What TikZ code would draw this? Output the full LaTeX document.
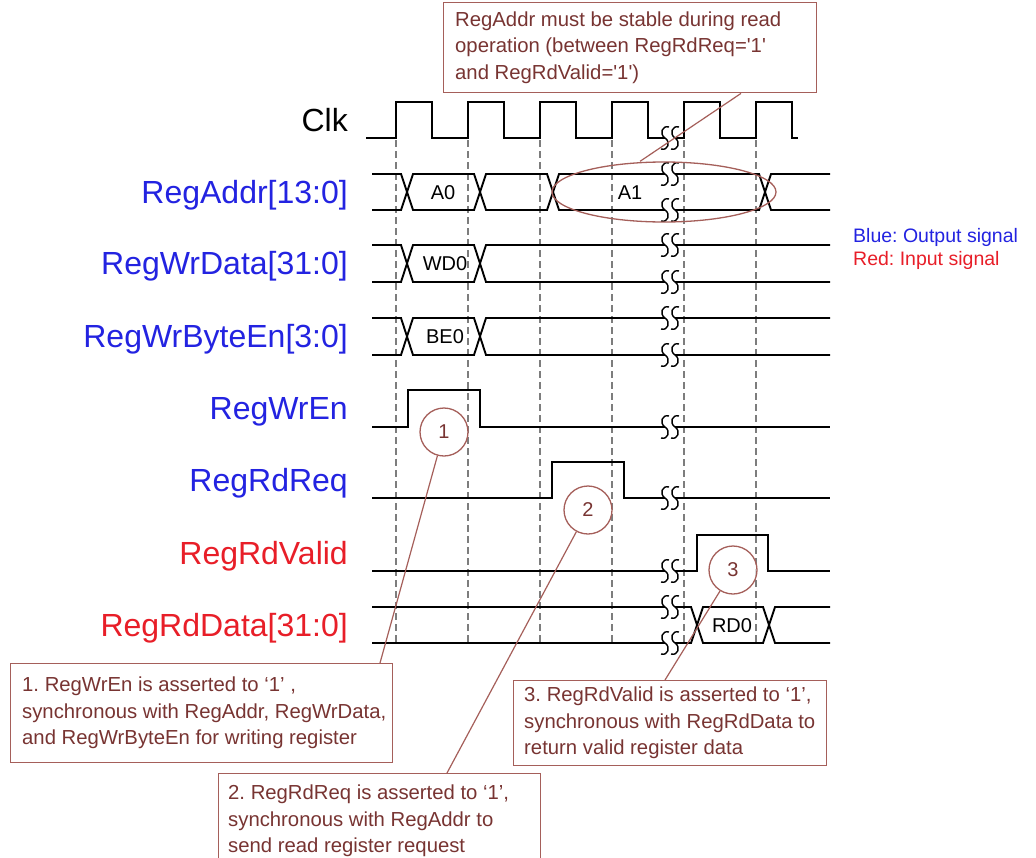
\documentclass[tikz,border=0pt]{standalone}
\usepackage{fontspec}
\setmainfont{Liberation Sans}
\usetikzlibrary{shapes.geometric}
\definecolor{brn}{RGB}{165,95,90}
\definecolor{brntxt}{RGB}{120,52,50}
\definecolor{sigblue}{RGB}{35,35,225}
\definecolor{sigred}{RGB}{232,30,40}
\definecolor{dgray}{RGB}{125,125,125}
\newcommand{\sshape}[2]{\draw[brkline] ({#1+4},{#2-11}) .. controls ({#1-3},{#2-13}) and ({#1-6},{#2-4}) .. (#1,#2) .. controls ({#1+6},{#2+4}) and ({#1+3},{#2+13}) .. ({#1-4},{#2+11});}
\newcommand{\brkmark}[1]{\fill[white] (665,{#1-2.6}) rectangle (675,{#1+2.6});\sshape{665}{#1}\sshape{675}{#1}}
\frenchspacing
\begin{document}
\frenchspacing
\begin{tikzpicture}[x=1pt,y=-1pt,
  sig/.style={line width=1.9pt},
  brkline/.style={line width=1.4pt},
  guide/.style={dgray, line width=1.3pt, dash pattern=on 7pt off 4pt},
  lbl/.style={anchor=base east, inner sep=0pt, font=\fontsize{32}{36}\selectfont},
  val/.style={anchor=base, inner sep=0pt, font=\fontsize{20}{24}\selectfont},
  annbox/.style={draw=brn, line width=1.4pt, fill=white, rectangle, inner sep=0pt, anchor=north west},
  anntext/.style={anchor=west, align=left, inner sep=0pt, text=brntxt, font=\fontsize{20.3}{26.5}\selectfont\frenchspacing},
  circ/.style={circle, draw=brn, line width=1.3pt, fill=white, fill opacity=0.7, text opacity=1, text=brntxt, minimum size=48pt, inner sep=0pt, font=\fontsize{20}{24}\selectfont},
  conn/.style={brn, line width=1.2pt},
  legend/.style={anchor=base west, inner sep=0pt, font=\fontsize{19.5}{23}\selectfont\frenchspacing}
]
\useasboundingbox (0,0) rectangle (1036,857);
\fill[white] (0,0) rectangle (1036,857);

% guide lines
\foreach \x in {396,468,540,612,684,756} \draw[guide] (\x,140) -- (\x,645);

% labels
\node[lbl] (lclk) at (348,131) {Clk};
\node[lbl, text=sigblue] (laddr) at (348,203) {RegAddr[13:0]};
\node[lbl, text=sigblue] (lwd) at (348,274) {RegWrData[31:0]};
\node[lbl, text=sigblue] (lbe) at (348,347) {RegWrByteEn[3:0]};
\node[lbl, text=sigblue] (lwe) at (348,419) {RegWrEn};
\node[lbl, text=sigblue] (lrq) at (348,491) {RegRdReq};
\node[lbl, text=sigred] (lrv) at (348,564) {RegRdValid};
\node[lbl, text=sigred] (lrd) at (348,636) {RegRdData[31:0]};

% clock
\draw[sig] (366,138) -| (396,102) -| (432,138) -| (468,102) -| (504,138) -| (540,102) -| (576,138) -| (612,102) -| (648,138) -| (684,102) -| (720,138) -| (756,102) -| (792,138) -- (798,138);

% RegAddr
\draw[sig] (372,174) -- (401,174) -- (413,210) -- (474,210) -- (486,174) -- (547,174) -- (559,210) -- (759,210) -- (771,174) -- (830,174);
\draw[sig] (372,210) -- (401,210) -- (413,174) -- (474,174) -- (486,210) -- (547,210) -- (559,174) -- (759,174) -- (771,210) -- (830,210);
% RegWrData
\draw[sig] (372,245) -- (401,245) -- (413,282) -- (474,282) -- (486,245) -- (830,245);
\draw[sig] (372,282) -- (401,282) -- (413,245) -- (474,245) -- (486,282) -- (830,282);
% RegWrByteEn
\draw[sig] (372,318) -- (401,318) -- (413,355) -- (474,355) -- (486,318) -- (830,318);
\draw[sig] (372,355) -- (401,355) -- (413,318) -- (474,318) -- (486,355) -- (830,355);
% RegWrEn
\draw[sig] (372,427) -| (408,390) -| (480,427) -- (830,427);
% RegRdReq
\draw[sig] (372,498) -| (552,462) -| (624,498) -- (830,498);
% RegRdValid
\draw[sig] (372,571) -| (697,535) -| (768,571) -- (830,571);
% RegRdData
\draw[sig] (372,607) -- (691,607) -- (703,643) -- (763,643) -- (775,607) -- (830,607);
\draw[sig] (372,643) -- (691,643) -- (703,607) -- (763,607) -- (775,643) -- (830,643);

% values
\node[val] (va0) at (443,199) {A0};
\node[val] (va1) at (630,199) {A1};
\node[val] (vwd) at (445,270) {WD0};
\node[val] (vbe) at (445,343) {BE0};
\node[val] (vrd) at (732,632) {RD0};

% breaks
\foreach \yy in {138,174,210,245,282,318,355,427,498,571,607,643} {\brkmark{\yy}}

% legend
\node[legend, text=sigblue] (lg1) at (853,242) {Blue: Output signal};
\node[legend, text=sigred] (lg2) at (853,265) {Red: Input signal};

% ellipse and circles
\node[ellipse, draw=brn, line width=1.3pt, minimum width=224pt, minimum height=60pt, inner sep=0pt] (el) at (664,192) {};
\node[circ] (c1) at (444,432) {1};
\node[circ] (c2) at (588,510) {2};
\node[circ] (c3) at (733,570) {3};

% boxes
\node[annbox, minimum width=373pt, minimum height=90pt] (tb) at (443,2) {};
\node[anntext] (tbt) at ([xshift=12pt]tb.west) {RegAddr must be stable during read\\operation (between RegRdReq=\textquotesingle1\textquotesingle\\and RegRdValid=\textquotesingle1\textquotesingle)};
\node[annbox, minimum width=382pt, minimum height=99pt] (b1) at (10,663) {};
\node[anntext] (b1t) at ([xshift=12pt]b1.west) {1. RegWrEn is asserted to ‘1’ ,\\synchronous with RegAddr, RegWrData,\\and RegWrByteEn for writing register};
\node[annbox, minimum width=322pt, minimum height=95pt] (b2) at (218,773) {};
\node[anntext] (b2t) at ([xshift=10pt]b2.west) {2. RegRdReq is asserted to ‘1’,\\synchronous with RegAddr to\\send read register request};
\node[annbox, minimum width=313pt, minimum height=85pt] (b3) at (513,680) {};
\node[anntext] (b3t) at ([xshift=11pt]b3.west) {3. RegRdValid is asserted to ‘1’,\\synchronous with RegRdData to\\return valid register data};

% connectors
\draw[conn] ([xshift=-24pt]el.north) -- ([xshift=298pt]tb.south west);
\draw[conn] (c1) -- ([xshift=370pt]b1.north west);
\draw[conn] (c2) -- ([xshift=229pt]b2.north west);
\draw[conn] (c3) -- ([xshift=152pt]b3.north west);
\end{tikzpicture}
\end{document}
